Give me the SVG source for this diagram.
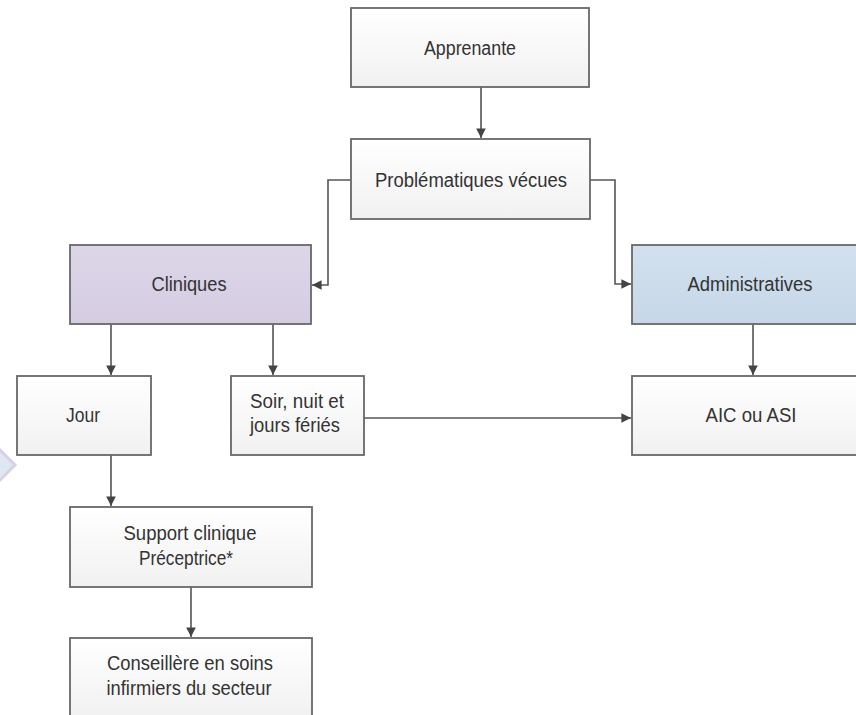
<svg xmlns="http://www.w3.org/2000/svg" width="856" height="715" viewBox="0 0 856 715">
  <defs>
    <linearGradient id="gPlain" x1="0" y1="0" x2="0" y2="1">
      <stop offset="0" stop-color="#ffffff"/>
      <stop offset="1" stop-color="#f1f1f1"/>
    </linearGradient>
    <linearGradient id="gLilac" x1="0" y1="0" x2="0" y2="1">
      <stop offset="0" stop-color="#ddd6e8"/>
      <stop offset="1" stop-color="#d5cce2"/>
    </linearGradient>
    <linearGradient id="gBlue" x1="0" y1="0" x2="0" y2="1">
      <stop offset="0" stop-color="#d3e1ee"/>
      <stop offset="1" stop-color="#c6d7e8"/>
    </linearGradient>
    <marker id="arrow" viewBox="0 0 10 10" refX="10" refY="5" markerWidth="6" markerHeight="6" orient="auto" markerUnits="strokeWidth">
      <path d="M0,0 L10,5 L0,10 z" fill="#444444"/>
    </marker>
  </defs>
  <style>
    .box { stroke: #686868; stroke-width: 1.8; fill: url(#gPlain); }
    .lilac { fill: url(#gLilac); }
    .blue { fill: url(#gBlue); }
    .lbl { font-family: "Liberation Sans", Arial, sans-serif; font-size: 20px; fill: #333333; text-anchor: middle; }
    .wire { fill: none; stroke: #555555; stroke-width: 1.6; marker-end: url(#arrow); }
  </style>

  <rect width="856" height="715" fill="#ffffff"/>

  <!-- small decorative diamond on the left margin -->
  <polygon points="-17,465 -1,449 15,465 -1,481" fill="#dde8f1" stroke="#d9cfe7" stroke-width="3"/>

  <g id="connectors">
    <path class="wire" d="M481,87 V138"/>
    <path class="wire" d="M351,180 H328 V285 H312"/>
    <path class="wire" d="M590,180 H615 V284 H631"/>
    <path class="wire" d="M111,324 V375"/>
    <path class="wire" d="M273,324 V375"/>
    <path class="wire" d="M753,324 V375"/>
    <path class="wire" d="M364,418 H631"/>
    <path class="wire" d="M111,455 V506"/>
    <path class="wire" d="M191,587 V637"/>
  </g>

  <g id="apprenante">
    <rect class="box" x="351" y="8" width="238" height="79"/>
    <text class="lbl" x="470" y="55" textLength="92" lengthAdjust="spacingAndGlyphs">Apprenante</text>
  </g>

  <g id="problematiques">
    <rect class="box" x="351" y="139" width="239" height="80"/>
    <text class="lbl" x="471" y="187" textLength="192" lengthAdjust="spacingAndGlyphs">Problématiques vécues</text>
  </g>

  <g id="cliniques">
    <rect class="box lilac" x="70" y="245" width="241" height="79"/>
    <text class="lbl" x="189" y="291" textLength="75" lengthAdjust="spacingAndGlyphs">Cliniques</text>
  </g>

  <g id="administratives">
    <rect class="box blue" x="632" y="245" width="238" height="79"/>
    <text class="lbl" x="750" y="291" textLength="125" lengthAdjust="spacingAndGlyphs">Administratives</text>
  </g>

  <g id="jour">
    <rect class="box" x="17" y="376" width="134" height="79"/>
    <text class="lbl" x="83" y="422" textLength="34" lengthAdjust="spacingAndGlyphs">Jour</text>
  </g>

  <g id="soir">
    <rect class="box" x="231" y="376" width="133" height="79"/>
    <text class="lbl" x="297" y="408" textLength="94" lengthAdjust="spacingAndGlyphs">Soir, nuit et</text>
    <text class="lbl" x="295" y="432" textLength="90" lengthAdjust="spacingAndGlyphs">jours fériés</text>
  </g>

  <g id="aic-asi">
    <rect class="box" x="632" y="376" width="238" height="79"/>
    <text class="lbl" x="751" y="422" textLength="91" lengthAdjust="spacingAndGlyphs">AIC ou ASI</text>
  </g>

  <g id="support">
    <rect class="box" x="70" y="507" width="242" height="80"/>
    <text class="lbl" x="190" y="540" textLength="133" lengthAdjust="spacingAndGlyphs">Support clinique</text>
    <text class="lbl" x="186" y="565" textLength="94" lengthAdjust="spacingAndGlyphs">Préceptrice*</text>
  </g>

  <g id="conseillere">
    <rect class="box" x="70" y="638" width="242" height="80"/>
    <text class="lbl" x="190" y="670" textLength="166" lengthAdjust="spacingAndGlyphs">Conseillère en soins</text>
    <text class="lbl" x="189" y="695" textLength="165" lengthAdjust="spacingAndGlyphs">infirmiers du secteur</text>
  </g>
</svg>
